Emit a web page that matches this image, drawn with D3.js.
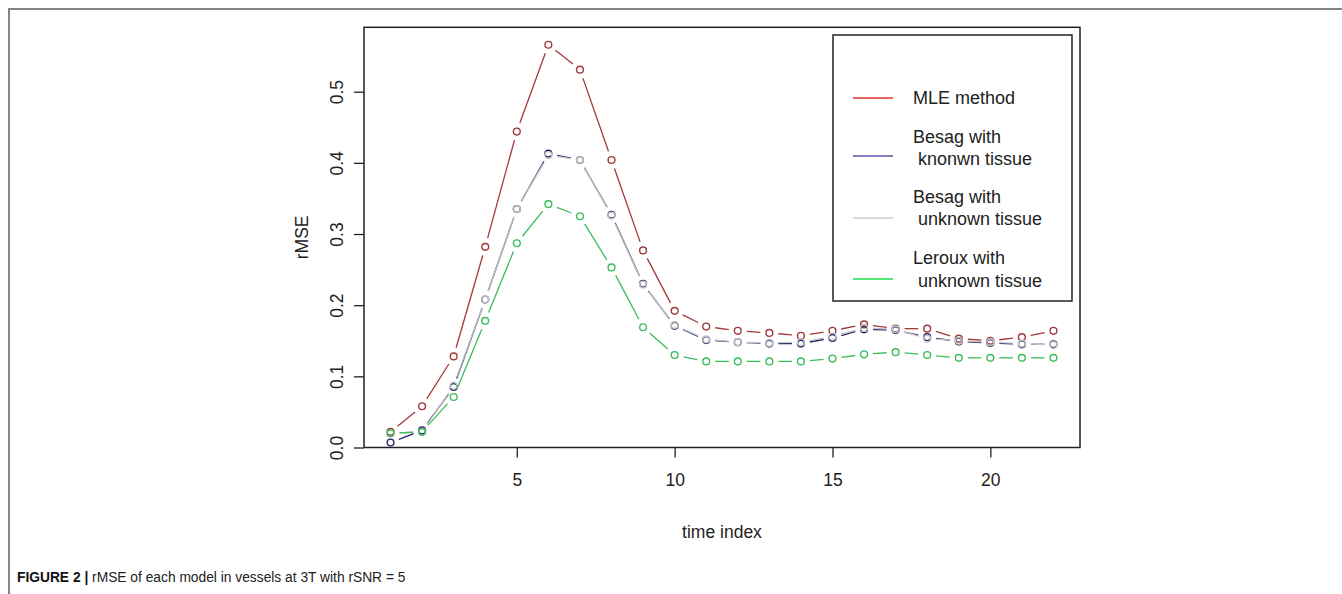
<!DOCTYPE html>
<html>
<head>
<meta charset="utf-8">
<script src="https://cdn.jsdelivr.net/npm/d3@7"></script>
<style>
  body { margin: 0; background: #fff; }
  text { font-family: "Liberation Sans", Arial, sans-serif; }
</style>
</head>
<body>
<div id="chart"></div>
<script>
const timeIndex = [1, 2, 3, 4, 5, 6, 7, 8, 9, 10, 11, 12, 13, 14, 15, 16, 17, 18, 19, 20, 21, 22];

const mle = [0.022, 0.058, 0.128, 0.282, 0.444, 0.566, 0.531, 0.404, 0.277, 0.192, 0.170, 0.164,
             0.161, 0.157, 0.164, 0.173, 0.167, 0.167, 0.153, 0.150, 0.155, 0.164];
const besagKnown = [0.007, 0.024, 0.085, 0.208, 0.335, 0.413, 0.404, 0.327, 0.230, 0.171, 0.151, 0.148,
                    0.146, 0.146, 0.154, 0.166, 0.165, 0.155, 0.149, 0.147, 0.145, 0.145];
const besagUnknown = [0.020, 0.022, 0.087, 0.208, 0.335, 0.411, 0.404, 0.326, 0.229, 0.172, 0.152, 0.148,
                      0.147, 0.148, 0.156, 0.168, 0.166, 0.153, 0.150, 0.148, 0.146, 0.144];
const lerouxUnknown = [0.020, 0.022, 0.071, 0.178, 0.287, 0.342, 0.325, 0.253, 0.169, 0.130, 0.121, 0.121,
                       0.121, 0.121, 0.125, 0.131, 0.134, 0.130, 0.126, 0.126, 0.126, 0.126];

const xTicks = [5, 10, 15, 20];
const yTicks = [0, 0.1, 0.2, 0.3, 0.4, 0.5];

const seriesNames = [["MLE method"], ["Besag with", " knonwn tissue"], ["Besag with", " unknown tissue"], ["Leroux with", " unknown tissue"]];

const W = 1342, H = 594;
const box = { left: 364, top: 27.3, right: 1080, bottom: 447.5 };

const svg = d3.select("#chart").append("svg")
    .attr("width", W)
    .attr("height", H);

// figure frame (top and left rules)
svg.append("path")
    .attr("d", "M9,594 L9,9 L1342,9")
    .attr("fill", "none")
    .attr("stroke", "#858585")
    .attr("stroke-width", 2);

const x = d3.scaleLinear().domain([0.16, 22.84]).range([box.left, box.right]);
const y = d3.scaleLinear().domain([0, 0.5905]).range([box.bottom, box.top]);

// x axis
const xAxis = svg.append("g")
    .attr("transform", "translate(0," + box.bottom + ")")
    .call(d3.axisBottom(x).tickValues(xTicks).tickSize(10).tickPadding(16));
xAxis.select(".domain").remove();
xAxis.selectAll("line").attr("stroke", "#222").attr("stroke-width", 1.3);
xAxis.selectAll("text").attr("font-size", 17.5).attr("fill", "#222")
    .style("font-family", "'Liberation Sans', Arial, sans-serif");

// y axis, labels rotated like base R
const yAxis = svg.append("g")
    .attr("transform", "translate(" + box.left + ",0)")
    .call(d3.axisLeft(y).tickValues(yTicks).tickSize(10).tickFormat(d3.format(".1f")));
yAxis.select(".domain").remove();
yAxis.selectAll("line").attr("stroke", "#222").attr("stroke-width", 1.3);
yAxis.selectAll("text")
    .attr("x", null).attr("dy", "0.35em")
    .attr("text-anchor", "middle")
    .attr("transform", "translate(-27,0) rotate(-90)")
    .attr("font-size", 17.5).attr("fill", "#222")
    .style("font-family", "'Liberation Sans', Arial, sans-serif");

// plot box
svg.append("rect")
    .attr("x", box.left).attr("y", box.top)
    .attr("width", box.right - box.left).attr("height", box.bottom - box.top)
    .attr("fill", "none").attr("stroke", "#222").attr("stroke-width", 1.5);

// axis titles
svg.append("text")
    .attr("x", (box.left + box.right) / 2).attr("y", 532)
    .attr("dy", "0.35em").attr("text-anchor", "middle")
    .attr("font-size", 17.5).attr("fill", "#222")
    .text("time index");
svg.append("text")
    .attr("transform", "translate(302," + ((box.top + box.bottom) / 2) + ") rotate(-90)")
    .attr("dy", "0.35em").attr("text-anchor", "middle")
    .attr("font-size", 17.5).attr("fill", "#222")
    .text("rMSE");

// series, drawn as type="b": points with gapped segments
const series = [
    { values: mle, stroke: "#a2393b", legend: "#e0302e" },
    { values: besagKnown, stroke: "#24246e", legend: "#5a55a8" },
    { values: besagUnknown, stroke: "#c4c4c4", legend: "#cccccc" },
    { values: lerouxUnknown, stroke: "#3cbc5a", legend: "#18e048" }
];
const gap = 9;

series.forEach(s => {
    const pts = timeIndex.map((t, i) => [x(t), y(s.values[i])]);
    const g = svg.append("g");
    const segs = d3.pairs(pts).map(([a, b]) => {
        const dx = b[0] - a[0], dy = b[1] - a[1];
        const len = Math.hypot(dx, dy);
        if (len <= 2 * gap) return null;
        const ux = dx / len, uy = dy / len;
        return [a[0] + ux * gap, a[1] + uy * gap, b[0] - ux * gap, b[1] - uy * gap];
    }).filter(d => d);
    g.selectAll("line").data(segs).join("line")
        .attr("x1", d => d[0]).attr("y1", d => d[1])
        .attr("x2", d => d[2]).attr("y2", d => d[3])
        .attr("stroke", s.stroke).attr("stroke-width", 1.3);
    g.selectAll("circle").data(pts).join("circle")
        .attr("cx", d => d[0]).attr("cy", d => d[1])
        .attr("r", 3.4)
        .attr("fill", "none").attr("stroke", s.stroke).attr("stroke-width", 1.4);
});

// legend
const legend = svg.append("g");
legend.append("rect")
    .attr("x", 833).attr("y", 35).attr("width", 239).attr("height", 266)
    .attr("fill", "#fff").attr("stroke", "#222").attr("stroke-width", 1.5);

const legendRows = [
    { lineY: 98, textY: [98] },
    { lineY: 156, textY: [137, 159] },
    { lineY: 218, textY: [197, 219] },
    { lineY: 279, textY: [258, 281] }
];
legendRows.forEach((r, i) => {
    legend.append("line")
        .attr("x1", 853).attr("x2", 893)
        .attr("y1", r.lineY).attr("y2", r.lineY)
        .attr("stroke", series[i].legend).attr("stroke-width", 1.5);
    seriesNames[i].forEach((name, j) => {
        legend.append("text")
            .attr("x", 913).attr("y", r.textY[j])
            .attr("dy", "0.35em")
            .attr("font-size", 18).attr("fill", "#222")
            .style("white-space", "pre")
            .text(name);
    });
});

// caption (condensed face, so squeeze horizontally)
const cap = svg.append("text")
    .attr("transform", "translate(17,577) scale(0.89,1)")
    .attr("dy", "0.35em")
    .attr("font-size", 15.5);
cap.append("tspan").attr("font-weight", "bold").attr("fill", "#111").text("FIGURE 2 | ");
cap.append("tspan").attr("fill", "#222").text("rMSE of each model in vessels at 3T with rSNR = 5");
</script>
</body>
</html>
